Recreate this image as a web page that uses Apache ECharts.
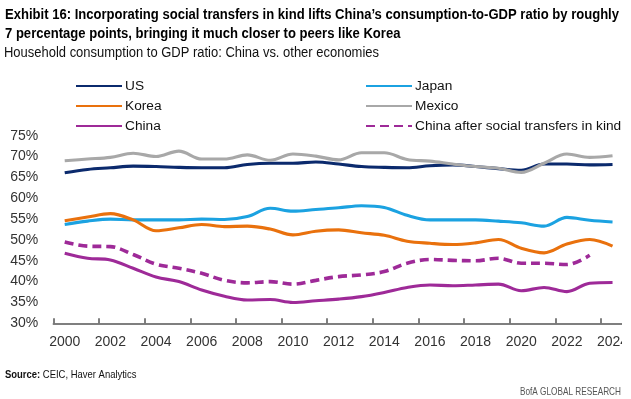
<!DOCTYPE html>
<html><head><meta charset="utf-8">
<script src="https://cdn.jsdelivr.net/npm/echarts@6/dist/echarts.min.js"></script>
<style>html,body{margin:0;padding:0;background:#fff;overflow:hidden}#wrap{width:622px;height:399px;overflow:hidden}#c{width:631px;height:399px}</style>
</head><body><div id="wrap"><div id="c"></div></div>
<script>
const years = ['2000','2001','2002','2003','2004','2005','2006','2007','2008','2009','2010','2011','2012','2013','2014','2015','2016','2017','2018','2019','2020','2021','2022','2023','2024'];
const us = [66.1, 66.9, 67.3, 67.7, 67.6, 67.4, 67.3, 67.3, 68.1, 68.4, 68.4, 68.7, 68.2, 67.6, 67.4, 67.3, 67.8, 68.0, 67.6, 67.1, 66.7, 68.2, 68.2, 68.0, 68.1];
const japan = [53.7, 54.5, 55.0, 54.8, 54.8, 54.8, 55.0, 54.9, 55.6, 57.6, 56.9, 57.3, 57.7, 58.2, 57.8, 55.9, 54.8, 54.8, 54.8, 54.5, 54.1, 53.3, 55.4, 54.7, 54.3];
const korea = [54.6, 55.5, 56.3, 54.8, 52.2, 52.9, 53.7, 53.2, 53.3, 52.6, 51.2, 52.1, 52.4, 51.7, 51.1, 49.7, 49.2, 48.9, 49.3, 50.1, 48.0, 46.9, 49.0, 50.1, 48.5];
const mexico = [69.0, 69.4, 69.8, 70.8, 70.0, 71.3, 69.4, 69.4, 70.4, 69.1, 70.6, 70.1, 69.2, 70.9, 70.9, 69.3, 68.9, 68.2, 67.6, 67.2, 66.2, 68.4, 70.6, 69.8, 70.2];
const china = [46.8, 45.6, 45.2, 43.2, 41.1, 40.0, 38.0, 36.5, 35.6, 35.7, 35.0, 35.4, 35.8, 36.4, 37.4, 38.6, 39.2, 39.0, 39.2, 39.4, 37.8, 38.6, 37.6, 39.6, 39.8];
const chinaAfter = [49.5, 48.5, 48.4, 46.5, 44.2, 43.2, 42.0, 40.3, 39.7, 40.0, 39.4, 40.3, 41.2, 41.6, 42.4, 44.4, 45.3, 45.1, 45.0, 45.6, 44.4, 44.4, 44.1, 46.3, null];
const yTicks = [30, 35, 40, 45, 50, 55, 60, 65, 70, 75];

const titleLine1 = 'Exhibit 16: Incorporating social transfers in kind lifts China\u2019s consumption-to-GDP ratio by roughly';
const titleLine2 = '7 percentage points, bringing it much closer to peers like Korea';
const subtitle = 'Household consumption to GDP ratio: China vs. other economies';
const sourceLabel = 'Source:';
const sourceText = ' CEIC, Haver Analytics';
const brand = 'BofA GLOBAL RESEARCH';

const FONT = '"Liberation Sans", Arial, sans-serif';
const mctx = document.createElement('canvas').getContext('2d');
function measure(text, font) { mctx.font = font; return mctx.measureText(text).width; }

function fitText(text, font, x, y, width, fill, align) {
  const s = width / measure(text, font);
  return {
    type: 'text', x: x, y: y, scaleX: s, scaleY: 1, silent: true,
    style: {text: text, font: font, fill: fill, align: align || 'left', verticalAlign: 'middle'}
  };
}

const tFont = 'bold 14px "Liberation Sans"';
const line1W = 614;
const tScale = line1W / measure(titleLine1, tFont);
const line2W = measure(titleLine2, tFont) * tScale;

const graphics = [
  fitText(titleLine1, tFont, 5, 15, line1W, '#000'),
  fitText(titleLine2, tFont, 5, 34.5, line2W, '#000'),
  fitText(subtitle, '14px "Liberation Sans"', 4, 53.5, 375, '#111'),
  {type: 'text', x: 5, y: 375, scaleX: 0.86, silent: true,
   style: {text: '{b|' + sourceLabel + '}{r|' + sourceText + '}', verticalAlign: 'middle',
     rich: {b: {font: 'bold 11px "Liberation Sans"', fill: '#111'}, r: {font: '11px "Liberation Sans"', fill: '#111'}}}},
  fitText(brand, '11px "Liberation Sans"', 621, 392, 101, '#555', 'right')
];

const chart = echarts.init(document.getElementById('c'), null, {renderer: 'canvas'});
function ser(name, data, color, dashed) {
  return {
    name: name, type: 'line', data: data, smooth: 0.35, symbol: 'none',
    lineStyle: {color: color, width: dashed ? 3.6 : 3.1, type: dashed ? [9, 5] : 'solid', cap: 'butt'},
    itemStyle: {color: color}, connectNulls: false, animation: false
  };
}
const legendCommon = {
  orient: 'vertical', itemWidth: 46, itemHeight: 14, itemGap: 6, padding: 0,
  itemStyle: {opacity: 0},
  textStyle: {fontFamily: FONT, fontSize: 13.7, color: '#111', padding: [0, 0, 0, -2]}
};
chart.setOption({
  animation: false,
  graphic: graphics,
  legend: [
    Object.assign({}, legendCommon, {left: 75, top: 79, data: ['US', 'Korea', 'China']}),
    Object.assign({}, legendCommon, {left: 365, top: 79, data: ['Japan', 'Mexico', 'China after social transfers in kind']})
  ],
  grid: {left: 53.3, right: 1.7, top: 135.7, bottom: 75.7, containLabel: false},
  xAxis: {
    type: 'category', data: years, boundaryGap: true,
    axisLine: {show: true, lineStyle: {color: '#555', width: 1.5}},
    axisTick: {show: true, inside: true, length: 5, interval: 1, lineStyle: {color: '#555', width: 1.5}},
    axisLabel: {interval: 1, margin: 12, fontFamily: FONT, fontSize: 14, color: '#333'},
    splitLine: {show: false}
  },
  yAxis: {
    type: 'value', min: yTicks[0], max: yTicks[yTicks.length - 1], interval: 5,
    axisLine: {show: false}, axisTick: {show: false}, splitLine: {show: false},
    axisLabel: {formatter: '{value}%', margin: 15, fontFamily: FONT, fontSize: 14, color: '#333'}
  },
  series: [
    ser('US', us, '#0b2a6d', false),
    ser('Japan', japan, '#1ba2e1', false),
    ser('Korea', korea, '#e9710d', false),
    ser('Mexico', mexico, '#a8a8a8', false),
    ser('China', china, '#9e2a98', false),
    ser('China after social transfers in kind', chinaAfter, '#9e2a98', true)
  ]
});
</script></body></html>
